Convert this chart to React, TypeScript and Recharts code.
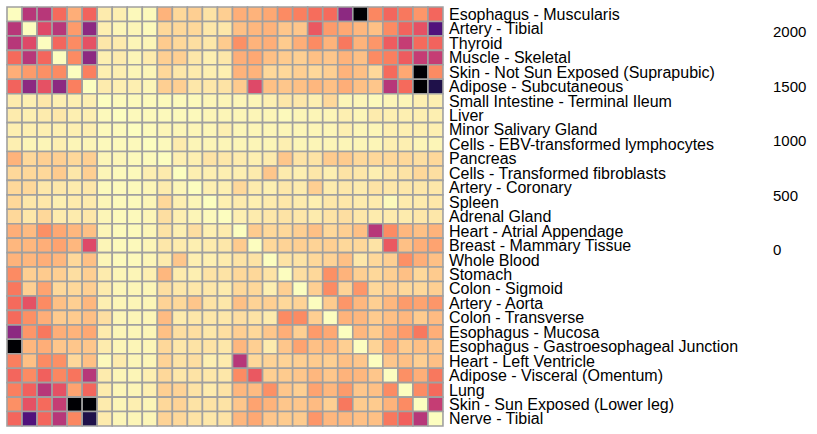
import React from 'react';
import { BarChart, Bar, XAxis, YAxis, Cell } from 'recharts';

const tissues = [
  'Esophagus - Muscularis',
  'Artery - Tibial',
  'Thyroid',
  'Muscle - Skeletal',
  'Skin - Not Sun Exposed (Suprapubic)',
  'Adipose - Subcutaneous',
  'Small Intestine - Terminal Ileum',
  'Liver',
  'Minor Salivary Gland',
  'Cells - EBV-transformed lymphocytes',
  'Pancreas',
  'Cells - Transformed fibroblasts',
  'Artery - Coronary',
  'Spleen',
  'Adrenal Gland',
  'Heart - Atrial Appendage',
  'Breast - Mammary Tissue',
  'Whole Blood',
  'Stomach',
  'Colon - Sigmoid',
  'Artery - Aorta',
  'Colon - Transverse',
  'Esophagus - Mucosa',
  'Esophagus - Gastroesophageal Junction',
  'Heart - Left Ventricle',
  'Adipose - Visceral (Omentum)',
  'Lung',
  'Skin - Sun Exposed (Lower leg)',
  'Nerve - Tibial',
];

const colorTicks = [0, 500, 1000, 1500, 2000];

const row0 = [0,1100,1100,700,370,750,90,70,20,20,350,180,220,130,220,370,350,400,530,590,680,700,1320,2300,550,730,620,480,730];
const row1 = [1100,0,880,1100,460,1320,70,40,40,20,180,180,180,110,110,290,330,350,260,260,810,460,400,330,290,530,750,840,1650];
const row2 = [1100,880,0,730,530,840,110,90,40,40,240,180,150,110,240,510,350,370,240,370,530,350,620,350,480,790,1030,700,750];
const row3 = [700,1100,730,0,530,1320,70,90,40,90,220,220,110,70,110,370,400,290,240,220,290,260,350,290,530,590,790,1030,1030];
const row4 = [370,460,510,530,0,590,70,70,40,40,180,110,90,70,70,350,350,180,180,220,180,220,350,290,180,700,400,2300,530];
const row5 = [750,1320,840,1320,590,0,90,70,70,40,220,220,110,110,130,240,880,290,260,290,330,290,370,290,260,1100,700,2300,1910];
const row6 = [90,70,110,70,70,70,0,20,20,20,20,20,20,40,40,40,40,70,110,110,70,180,40,40,20,40,40,70,70];
const row7 = [90,70,90,110,70,70,20,0,20,20,20,20,20,40,40,40,40,40,20,40,40,40,70,40,90,70,70,70,70];
const row8 = [70,70,70,70,70,70,20,20,0,20,40,40,40,40,70,40,40,40,40,40,40,40,70,40,40,70,70,70,70];
const row9 = [70,40,40,70,40,40,20,20,20,0,20,90,40,40,40,40,40,40,70,40,40,40,40,40,40,70,70,40,40];
const row10 = [350,180,220,220,180,220,40,40,20,20,0,70,70,130,110,90,70,90,260,130,130,240,240,180,180,180,180,150,180];
const row11 = [180,180,180,240,110,220,40,20,20,70,90,0,70,70,70,70,90,260,90,70,110,70,130,110,70,110,130,180,150];
const row12 = [180,180,110,110,90,110,20,20,20,40,90,40,0,70,70,180,90,70,110,90,220,90,110,90,130,110,110,110,110];
const row13 = [180,110,110,70,90,90,40,20,20,40,180,70,40,0,70,90,70,90,110,90,70,110,110,90,90,20,90,90,110];
const row14 = [180,110,180,90,90,110,40,20,20,40,150,70,40,20,0,70,90,110,130,110,90,130,150,110,90,90,90,110,110];
const row15 = [370,310,510,400,330,290,40,20,20,40,130,70,150,70,90,0,240,180,180,220,290,180,220,290,1100,530,330,290,350];
const row16 = [330,330,370,420,330,880,40,20,20,40,110,90,70,90,110,240,0,180,200,220,200,220,180,180,130,810,290,370,420];
const row17 = [350,330,370,330,180,290,40,20,20,40,90,260,70,70,90,130,130,0,130,130,180,200,290,110,180,220,510,370,290];
const row18 = [530,220,240,220,150,220,90,40,40,70,330,90,70,130,130,180,180,130,0,150,180,510,350,220,180,220,290,180,240];
const row19 = [620,220,420,180,180,220,90,40,40,40,150,110,110,110,90,180,180,70,220,0,220,530,200,480,180,220,180,180,220];
const row20 = [700,840,530,290,220,330,70,40,40,40,200,180,260,130,110,290,200,220,180,200,0,240,480,330,220,330,460,420,480];
const row21 = [700,510,370,240,240,290,150,40,40,40,310,90,110,110,110,150,130,90,530,530,220,0,350,330,240,290,330,240,310];
const row22 = [1320,480,620,370,350,400,90,40,40,40,290,150,150,110,150,220,180,260,370,220,460,400,0,330,240,370,460,620,370];
const row23 = [2300,330,370,260,260,260,90,40,40,40,180,110,130,130,110,330,220,90,260,420,290,330,220,0,200,370,240,290,260];
const row24 = [590,290,530,510,180,290,20,90,40,40,200,130,150,70,90,1100,180,200,200,220,240,220,290,260,0,260,290,220,290];
const row25 = [730,530,770,550,640,1100,90,40,40,70,180,110,130,110,110,530,810,220,240,260,330,260,350,330,260,0,510,370,620];
const row26 = [590,770,1100,840,420,730,90,40,40,70,220,200,130,90,130,330,310,510,260,220,420,330,460,260,290,530,0,530,700];
const row27 = [510,840,700,1030,2300,2300,90,40,70,40,180,200,130,130,130,260,420,350,260,260,310,220,620,240,240,350,530,0,1030];
const row28 = [730,1650,730,1100,550,1910,90,40,40,40,200,180,130,110,130,330,400,260,240,240,480,330,330,290,290,620,770,1100,0];

const matrix = [
  row0, row1, row2, row3, row4, row5, row6, row7, row8, row9,
  row10, row11, row12, row13, row14, row15, row16, row17, row18, row19,
  row20, row21, row22, row23, row24, row25, row26, row27, row28,
];

const COLOR_MAX = 2200;

// magma colormap stops (0 -> dark, 1 -> light)
const MAGMA = [
  '#000004', '#0a0822', '#140e36', '#251255', '#3b0f70', '#51127c', '#641a80',
  '#782281', '#8c2981', '#a1307e', '#b73779', '#cd4071', '#de4968', '#f1605d',
  '#f7705c', '#fb8761', '#fe9f6d', '#feb77e', '#fecf92', '#fde7a9', '#fcfdbf',
];

function hexToRgb(h: string) {
  return [parseInt(h.slice(1, 3), 16), parseInt(h.slice(3, 5), 16), parseInt(h.slice(5, 7), 16)];
}

function magma(t: number) {
  const x = Math.max(0, Math.min(1, t)) * (MAGMA.length - 1);
  const i = Math.min(MAGMA.length - 2, Math.floor(x));
  const f = x - i;
  const a = hexToRgb(MAGMA[i]);
  const b = hexToRgb(MAGMA[i + 1]);
  const c = a.map((v, k) => Math.round(v + (b[k] - v) * f));
  return `rgb(${c[0]},${c[1]},${c[2]})`;
}

function colorFor(v: number) {
  return magma(1 - v / COLOR_MAX);
}

const data = tissues.map((name) => {
  const o: any = { col: name };
  tissues.forEach((_, r) => {
    o[`r${r}`] = 1;
  });
  return o;
});

const rowTicks = tissues.map((_, i) => i + 0.5);

const font = '"Liberation Sans", Arial, Helvetica, sans-serif';

export default function App() {
  return (
    <div style={{ position: 'absolute', left: 0, top: 0, background: '#fff' }}>
      <BarChart
        width={817}
        height={434}
        data={data}
        margin={{ top: 7, left: 7, right: 0, bottom: 8 }}
        barCategoryGap={0}
        barGap={0}
      >
        <XAxis dataKey="col" hide />
        <YAxis
          yAxisId="rows"
          orientation="right"
          type="number"
          domain={[0, 29]}
          reversed
          ticks={rowTicks}
          interval={0}
          tickFormatter={(v: number) => tissues[Math.floor(v)]}
          width={324}
          axisLine={false}
          tickLine={false}
          tickSize={0}
          tickMargin={6}
          tick={{ fontSize: 16, fill: '#000', fontFamily: font }}
        />
        <YAxis
          yAxisId="scale"
          orientation="right"
          type="number"
          domain={[-1615, 2229]}
          allowDataOverflow
          ticks={colorTicks}
          interval={0}
          width={50}
          axisLine={false}
          tickLine={false}
          tickSize={0}
          tickMargin={6}
          tick={{ fontSize: 15, fill: '#000', fontFamily: font }}
        />
        {tissues.map((_, r) => (
          <Bar
            key={r}
            yAxisId="rows"
            dataKey={`r${r}`}
            stackId="heat"
            isAnimationActive={false}
            stroke="#a0a0a0"
            strokeWidth={1.6}
          >
            {tissues.map((__, c) => (
              <Cell key={c} fill={colorFor(matrix[r][c])} />
            ))}
          </Bar>
        ))}
      </BarChart>
    </div>
  );
}
